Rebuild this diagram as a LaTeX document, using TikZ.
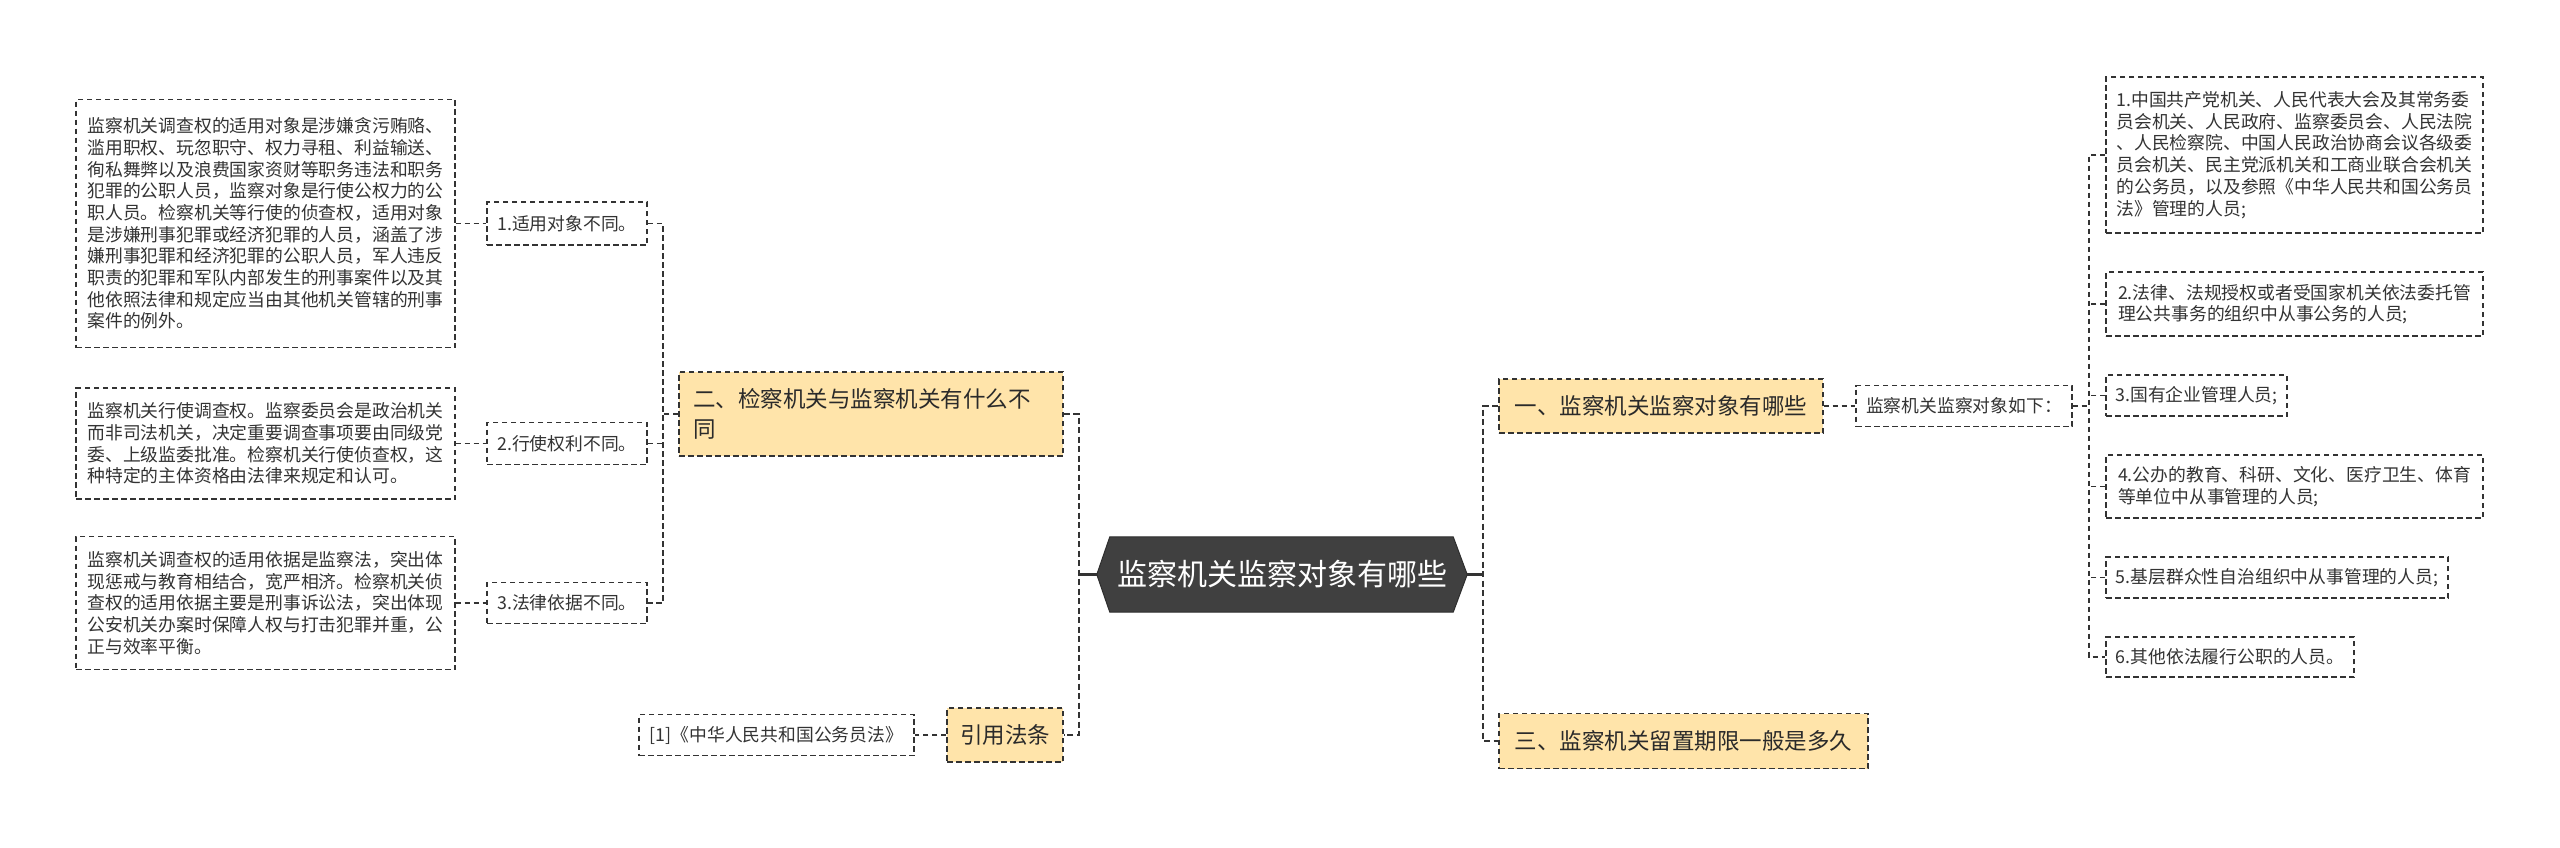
\documentclass[tikz,border=0pt]{standalone}
\usepackage{fontspec}
\setmainfont{Noto Sans CJK SC}
\usetikzlibrary{backgrounds}
\definecolor{linec}{HTML}{333333}
\definecolor{textc}{HTML}{333333}
\definecolor{topictext}{HTML}{2A2A2A}
\definecolor{orangef}{HTML}{FFE4AA}
\definecolor{hexc}{HTML}{404040}
\definecolor{hexb}{HTML}{2E2E2E}
\tikzset{
  box/.style={draw=linec, line width=1.3pt, dash pattern=on 5.5pt off 3.5pt, fill=white, inner sep=0pt, text=textc},
  leaf/.style={box, font=\fontsize{17.8}{21.7}\selectfont, align=left},
  topic/.style={box, fill=orangef, text=topictext, font=\fontsize{22.5}{30}\selectfont, align=left},
  sz/.style 2 args={minimum width=#1pt, minimum height=#2pt},
  conn/.style={draw=linec, line width=1.3pt, dash pattern=on 5.5pt off 3.5pt},
  mainconn/.style={draw=linec, line width=2.2pt, dash pattern=on 6pt off 3.5pt},
  rootconn/.style={draw=linec, line width=2.2pt},
}
\begin{document}
\begin{tikzpicture}[x=1pt,y=-1pt]
\useasboundingbox (0,0) rectangle (2560,847);
\begin{pgfonlayer}{background}
\fill[white] (0,0) rectangle (2560,847);
\end{pgfonlayer}

% trunk coordinates
\coordinate (L0) at (1079,0);
\coordinate (R0) at (1483,0);
\coordinate (L1) at (663,0);
\coordinate (R1) at (2089,0);

% root
\node[inner sep=0pt, sz={370}{75}, text=white, font=\fontsize{30}{34}\selectfont] (root) at (1282,574.5) {监察机关监察对象有哪些};
\begin{pgfonlayer}{background}
\draw[fill=hexc, draw=hexb, line width=1pt] (root.west) -- ([xshift=13pt]root.north west) -- ([xshift=-14pt]root.north east) -- (root.east) -- ([xshift=-14pt]root.south east) -- ([xshift=13pt]root.south west) -- cycle;
\end{pgfonlayer}

% left main branches
\node[topic, sz={384}{84}, text width=356pt] (n2) at (871,414) {二、检察机关与监察机关有什么不\\同};
\node[topic, sz={116}{54}] (ref) at (1005,735) {引用法条};

% right main branches
\node[topic, sz={324}{54}] (n1) at (1661,406) {一、监察机关监察对象有哪些};
\node[topic, sz={369}{55}] (n3) at (1683.5,741) {三、监察机关留置期限一般是多久};

% children of n2
\node[leaf, sz={160}{43}] (c1) at (567,223.5) {1.适用对象不同。};
\node[leaf, sz={160}{42}] (c2) at (567,443.5) {2.行使权利不同。};
\node[leaf, sz={160}{41}] (c3) at (567,603) {3.法律依据不同。};

\node[leaf, sz={379}{248}] (d1) at (265.5,223.5) {监察机关调查权的适用对象是涉嫌贪污贿赂、\\滥用职权、玩忽职守、权力寻租、利益输送、\\徇私舞弊以及浪费国家资财等职务违法和职务\\犯罪的公职人员，监察对象是行使公权力的公\\职人员。检察机关等行使的侦查权，适用对象\\是涉嫌刑事犯罪或经济犯罪的人员，涵盖了涉\\嫌刑事犯罪和经济犯罪的公职人员，军人违反\\职责的犯罪和军队内部发生的刑事案件以及其\\他依照法律和规定应当由其他机关管辖的刑事\\案件的例外。};
\node[leaf, sz={379}{111}] (d2) at (265.5,443.5) {监察机关行使调查权。监察委员会是政治机关\\而非司法机关，决定重要调查事项要由同级党\\委、上级监委批准。检察机关行使侦查权，这\\种特定的主体资格由法律来规定和认可。};
\node[leaf, sz={379}{133}] (d3) at (265.5,603) {监察机关调查权的适用依据是监察法，突出体\\现惩戒与教育相结合，宽严相济。检察机关侦\\查权的适用依据主要是刑事诉讼法，突出体现\\公安机关办案时保障人权与打击犯罪并重，公\\正与效率平衡。};

% child of ref
\node[leaf, sz={275}{41}] (r1) at (776.5,735) {[1]《中华人民共和国公务员法》};

% child of n1
\node[leaf, sz={216}{41}] (m1) at (1964,406) {监察机关监察对象如下：};

% children of m1
\node[leaf, sz={377}{156}] (e1) at (2294.5,155) {1.中国共产党机关、人民代表大会及其常务委\\员会机关、人民政府、监察委员会、人民法院\\、人民检察院、中国人民政治协商会议各级委\\员会机关、民主党派机关和工商业联合会机关\\的公务员，以及参照《中华人民共和国公务员\\法》管理的人员;};
\node[leaf, sz={377}{64}] (e2) at (2294.5,304) {2.法律、法规授权或者受国家机关依法委托管\\理公共事务的组织中从事公务的人员;};
\node[leaf, sz={181}{41}] (e3) at (2196.5,395.5) {3.国有企业管理人员;};
\node[leaf, sz={377}{63}] (e4) at (2294.5,486.5) {4.公办的教育、科研、文化、医疗卫生、体育\\等单位中从事管理的人员;};
\node[leaf, sz={342}{41}] (e5) at (2277,577.5) {5.基层群众性自治组织中从事管理的人员;};
\node[leaf, sz={248}{40}] (e6) at (2230,657) {6.其他依法履行公职的人员。};

% root connectors
\draw[rootconn] (root.west) -- (root.west -| L0);
\draw[rootconn] (root.east) -- (root.east -| R0);
\draw[mainconn] (n2.east) -- (n2.east -| L0) -- (ref.east -| L0) -- (ref.east);
\draw[mainconn] (n1.west) -- (n1.west -| R0) -- (n3.west -| R0) -- (n3.west);

% n2 subtree
\draw[conn] (n2.west) -- (n2.west -| L1);
\draw[conn] (c1.east) -- (c1.east -| L1) -- (c3.east -| L1) -- (c3.east);
\draw[conn] (c2.east) -- (c2.east -| L1);
\draw[conn] (d1.east) -- (c1.west);
\draw[conn] (d2.east) -- (c2.west);
\draw[conn] (d3.east) -- (c3.west);

% ref subtree
\draw[conn] (ref.west) -- (r1.east);

% n1 subtree
\draw[conn] (n1.east) -- (m1.west);
\draw[conn] (m1.east) -- (m1.east -| R1);
\draw[conn] (e1.west) -- (e1.west -| R1) -- (e6.west -| R1) -- (e6.west);
\draw[conn] (e2.west) -- (e2.west -| R1);
\draw[conn] (e3.west) -- (e3.west -| R1);
\draw[conn] (e4.west) -- (e4.west -| R1);
\draw[conn] (e5.west) -- (e5.west -| R1);
\end{tikzpicture}
\end{document}
